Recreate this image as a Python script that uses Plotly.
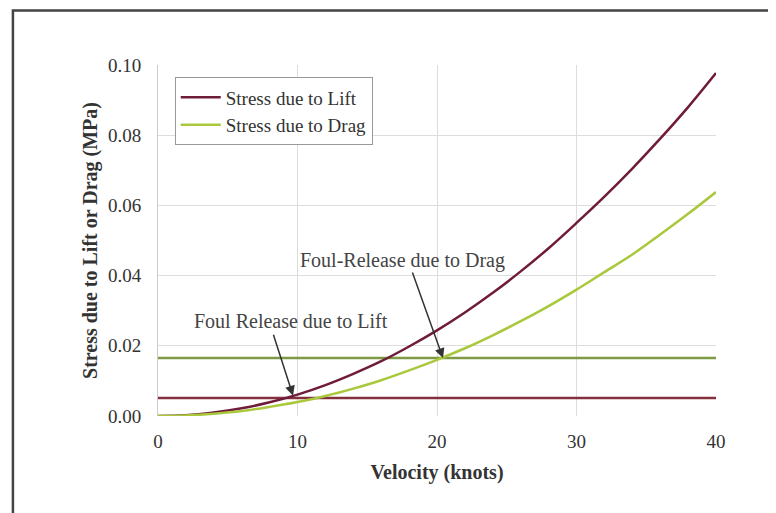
import plotly.graph_objects as go

velocity = [0, 2, 4, 6, 8, 10, 12, 14, 16, 18, 20, 22, 24, 26, 28, 30, 32, 34, 36, 38, 40]
stress_lift = [0.0, 0.0002, 0.001, 0.0022, 0.0039, 0.0061, 0.0088, 0.012, 0.0156, 0.0198, 0.0244,
               0.0295, 0.0351, 0.0412, 0.0478, 0.055, 0.0625, 0.0705, 0.079, 0.088, 0.0977]
stress_drag = [0.0, 0.00016, 0.00064, 0.0014, 0.0026, 0.004, 0.0057, 0.0078, 0.0102, 0.013, 0.016,
               0.0193, 0.023, 0.027, 0.0313, 0.036, 0.041, 0.046, 0.0517, 0.0576, 0.0638]
release_lift = 0.0051
release_drag = 0.0165
x_range = [0, 40]
x_ticks = [0, 10, 20, 30, 40]
y_ticks = [0.00, 0.02, 0.04, 0.06, 0.08, 0.10]
y_ticklabels = ["0.00", "0.02", "0.04", "0.06", "0.08", "0.10"]

LIFT = "#6f1c3a"
DRAG = "#a9c83c"
LIFT_H = "#84303f"
DRAG_H = "#7f9a45"
FONT = "Liberation Serif"
TXT = "#333333"

fig = go.Figure()
fig.add_trace(go.Scatter(x=x_range, y=[release_lift, release_lift], mode="lines",
                         line=dict(color=LIFT_H, width=2.5), showlegend=False, hoverinfo="skip"))
fig.add_trace(go.Scatter(x=x_range, y=[release_drag, release_drag], mode="lines",
                         line=dict(color=DRAG_H, width=2.5), showlegend=False, hoverinfo="skip"))
fig.add_trace(go.Scatter(x=velocity, y=stress_lift, mode="lines", name="Stress due to Lift",
                         line=dict(color=LIFT, width=2.5, shape="spline")))
fig.add_trace(go.Scatter(x=velocity, y=stress_drag, mode="lines", name="Stress due to Drag",
                         line=dict(color=DRAG, width=2.5, shape="spline")))

# arrows
fig.add_annotation(x=20.43, y=0.0165, ax=18.2, ay=0.0413, axref="x", ayref="y", xref="x", yref="y",
                   text="", showarrow=True, arrowhead=2, arrowsize=1.3, arrowwidth=1.5, arrowcolor="#333333")
fig.add_annotation(x=9.68, y=0.0058, ax=8.24, ay=0.0236, axref="x", ayref="y", xref="x", yref="y",
                   text="", showarrow=True, arrowhead=2, arrowsize=1.3, arrowwidth=1.5, arrowcolor="#333333")
# labels
fig.add_annotation(x=17.5, y=0.0442, xref="x", yref="y", text="Foul-Release due to Drag", showarrow=False,
                   font=dict(family=FONT, size=20, color="#444444"))
fig.add_annotation(x=9.53, y=0.0271, xref="x", yref="y", text="Foul Release due to Lift", showarrow=False,
                   font=dict(family=FONT, size=20, color="#444444"))

# figure frame (top and left visible)
fig.add_shape(type="rect", xref="paper", yref="paper", x0=-0.26, x1=1.2, y0=-0.4, y1=1.155,
              line=dict(color="#444444", width=2.5), layer="above")

fig.update_layout(
    width=776, height=513,
    margin=dict(l=150, r=68, t=57, b=105),
    paper_bgcolor="white", plot_bgcolor="white",
    font=dict(family=FONT, size=19, color=TXT),
    legend=dict(x=0.03, y=0.965, xanchor="left", yanchor="top", bordercolor="#999999", borderwidth=1,
                bgcolor="white", font=dict(family=FONT, size=19, color=TXT), tracegroupgap=0,
                itemwidth=40),
    xaxis=dict(range=x_range, tickvals=x_ticks, showgrid=True, gridcolor="#dddddd", zeroline=False,
               showline=False, ticks="", ticklen=0, ticklabelstandoff=12,
               title=dict(text="<b>Velocity (knots)</b>", font=dict(family=FONT, size=20, color=TXT), standoff=13),
               tickfont=dict(family=FONT, size=19, color=TXT)),
    yaxis=dict(range=[0, 0.1], tickvals=y_ticks, ticktext=y_ticklabels, showgrid=True, gridcolor="#dddddd",
               zeroline=False, showline=True, linecolor="#cccccc", ticks="", ticklen=0, ticklabelstandoff=12,
               title=dict(text="<b>Stress due to Lift or Drag (MPa)</b>", font=dict(family=FONT, size=20, color=TXT), standoff=4),
               tickfont=dict(family=FONT, size=19, color=TXT)),
    showlegend=True,
)

fig.write_html("out.html")
